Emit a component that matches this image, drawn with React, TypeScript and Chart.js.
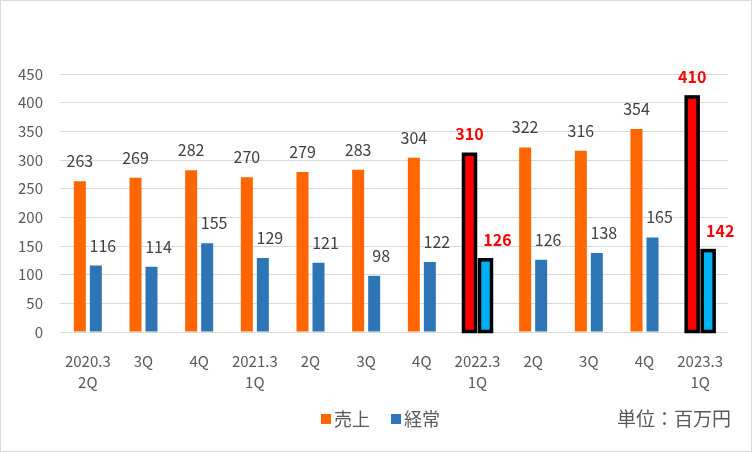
import React, { useEffect, useRef } from "react";
import { Chart, registerables } from "chart.js";

Chart.register(...registerables);

const categories: (string | string[])[] = [
  ["2020.3", "2Q"], "3Q", "4Q", ["2021.3", "1Q"], "2Q", "3Q", "4Q",
  ["2022.3", "1Q"], "2Q", "3Q", "4Q", ["2023.3", "1Q"],
];
const salesValues = [263, 269, 282, 270, 279, 283, 304, 310, 322, 316, 354, 410];
const ordinaryValues = [116, 114, 155, 129, 121, 98, 122, 126, 126, 138, 165, 142];
const highlightIndexes = [7, 11];
const seriesNames = ["売上", "経常"];
const unitText = "単位：百万円";

const FONT = "'Noto Sans CJK JP', 'Noto Sans', sans-serif";
const ORANGE = "#FF6600";
const BLUE = "#2E75B6";
const RED = "#FF0000";
const CYAN = "#00B0F0";

const overlayPlugin = {
  id: "overlay",
  afterDatasetsDraw(chart: any) {
    const ctx = chart.ctx;
    ctx.save();
    chart.data.datasets.forEach((ds: any, di: number) => {
      const meta = chart.getDatasetMeta(di);
      meta.data.forEach((el: any, i: number) => {
        if (!highlightIndexes.includes(i)) return;
        ctx.lineWidth = 3.5;
        ctx.strokeStyle = "#000000";
        ctx.lineJoin = "miter";
        ctx.strokeRect(el.x - el.width / 2, el.y, el.width, el.base - el.y);
      });
    });
    ctx.textAlign = "center";
    ctx.textBaseline = "middle";
    chart.data.datasets.forEach((ds: any, di: number) => {
      const meta = chart.getDatasetMeta(di);
      meta.data.forEach((el: any, i: number) => {
        const hl = highlightIndexes.includes(i);
        ctx.font = (hl ? "bold 16px " : "16px ") + FONT;
        ctx.fillStyle = hl ? RED : "#404040";
        let dx = 0;
        if (di === 1) dx = hl ? 12 : 7;
        ctx.fillText(String(ds.data[i]), el.x + dx, el.y - 20);
      });
    });
    ctx.restore();
  },
  afterDraw(chart: any) {
    const ctx = chart.ctx;
    ctx.save();
    ctx.font = "18px " + FONT;
    ctx.textBaseline = "middle";
    ctx.textAlign = "left";
    const ly = 419;
    const items = [
      { x: 321, color: ORANGE, text: seriesNames[0] },
      { x: 391, color: BLUE, text: seriesNames[1] },
    ];
    items.forEach((it) => {
      ctx.fillStyle = it.color;
      ctx.fillRect(it.x, ly - 5, 10, 10);
      ctx.fillStyle = "#595959";
      ctx.fillText(it.text, it.x + 13, ly);
    });
    ctx.font = "19px " + FONT;
    ctx.textAlign = "right";
    ctx.fillText(unitText, 731, ly);
    ctx.strokeStyle = "#d9d9d9";
    ctx.lineWidth = 1;
    ctx.strokeRect(0.5, 0.5, chart.width - 1, chart.height - 1);
    ctx.restore();
  },
};

export default function App() {
  const ref = useRef<HTMLCanvasElement | null>(null);
  useEffect(() => {
    document.body.style.margin = "0";
    const canvas = ref.current;
    if (!canvas) return;
    const chart = new Chart(canvas, {
      type: "bar",
      data: {
        labels: categories,
        datasets: [
          {
            label: seriesNames[0],
            data: salesValues,
            backgroundColor: salesValues.map((_, i) => (highlightIndexes.includes(i) ? RED : ORANGE)),
            borderWidth: 0,
            categoryPercentage: 0.575,
            barPercentage: 0.75,
          },
          {
            label: seriesNames[1],
            data: ordinaryValues,
            backgroundColor: ordinaryValues.map((_, i) => (highlightIndexes.includes(i) ? CYAN : BLUE)),
            borderWidth: 0,
            categoryPercentage: 0.575,
            barPercentage: 0.75,
          },
        ],
      },
      options: {
        responsive: false,
        animation: false,
        devicePixelRatio: 1,
        layout: { padding: { top: 74, right: 24, left: 0, bottom: 0 } },
        plugins: {
          legend: { display: false },
          tooltip: { enabled: false },
        },
        scales: {
          x: {
            grid: { display: false },
            border: { display: false },
            ticks: {
              color: "#595959",
              font: { family: FONT, size: 15, lineHeight: 1.4 },
              padding: 11,
              maxRotation: 0,
              autoSkip: false,
            },
            afterFit: (scale: any) => {
              scale.height = 120;
            },
          },
          y: {
            min: 0,
            max: 450,
            ticks: {
              stepSize: 50,
              color: "#595959",
              font: { family: FONT, size: 15 },
              padding: 17,
            },
            grid: { color: "#d9d9d9", lineWidth: 1, drawTicks: false },
            border: { display: false },
            afterFit: (scale: any) => {
              scale.width = 60;
            },
          },
        },
      },
      plugins: [overlayPlugin],
    });
    return () => chart.destroy();
  }, []);
  return (
    <div style={{ width: 752, height: 452, background: "#ffffff" }}>
      <canvas ref={ref} width={752} height={452} />
    </div>
  );
}
